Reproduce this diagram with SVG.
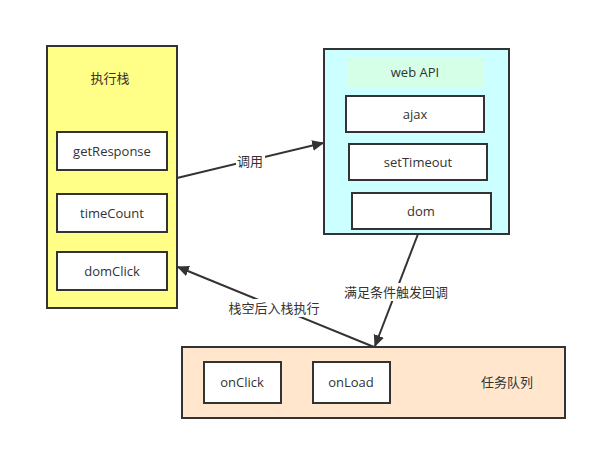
<svg xmlns="http://www.w3.org/2000/svg" width="597" height="450" viewBox="0 0 597 450">
<style>
text{font-family:"Open Sans","Noto Sans CJK SC","Liberation Sans",sans-serif;font-size:13px;fill:#333;text-anchor:middle;dominant-baseline:central}
.box{fill:#fff;stroke:#333;stroke-width:2}
.edge{fill:none;stroke:#333;stroke-width:2}
.lbl{fill:#fff}
</style>
<defs>
<marker id="ah" viewBox="0 0 10 10" refX="9" refY="5" markerWidth="6" markerHeight="6" markerUnits="strokeWidth" orient="auto">
<path d="M0,0.5 L10,5 L0,9.5 z" fill="#333"/>
</marker>
</defs>
<rect width="597" height="450" fill="#fff"/>
<g id="stack">
<rect x="47" y="46" width="130" height="262" fill="#ffff88" stroke="#333" stroke-width="2"/>
<text x="110" y="78">执行栈</text>
</g>
<g id="getResponse"><rect class="box" x="57" y="132" width="110" height="38"/><text x="112" y="151">getResponse</text></g>
<g id="timeCount"><rect class="box" x="57" y="194" width="110" height="38"/><text x="112" y="213">timeCount</text></g>
<g id="domClick"><rect class="box" x="57" y="252" width="110" height="38"/><text x="112" y="271">domClick</text></g>
<g id="webapi">
<rect x="324" y="49" width="185" height="185" fill="#ccffff" stroke="#333" stroke-width="2"/>
<rect x="347" y="57" width="136" height="30" fill="#d5ffe6"/>
<text x="415" y="72">web API</text>
</g>
<g id="ajax"><rect class="box" x="346" y="96" width="138" height="36"/><text x="415" y="114">ajax</text></g>
<g id="setTimeout"><rect class="box" x="349" y="144" width="138" height="36"/><text x="418" y="162">setTimeout</text></g>
<g id="dom"><rect class="box" x="352" y="193" width="139" height="36"/><text x="421" y="211">dom</text></g>
<g id="queue">
<rect x="182" y="347" width="383" height="71" fill="#ffe6cc" stroke="#333" stroke-width="2"/>
<text x="507" y="382">任务队列</text>
</g>
<g id="onClick"><rect class="box" x="204" y="362" width="77" height="41"/><text x="242" y="382">onClick</text></g>
<g id="onLoad"><rect class="box" x="313" y="362" width="77" height="41"/><text x="351" y="382">onLoad</text></g>
<g id="connectors">
<path class="edge" d="M177,178 L323,143" marker-end="url(#ah)"/>
<rect class="lbl" x="236" y="153" width="29" height="18"/>
<text x="250" y="161">调用</text>
<path class="edge" d="M418,234 L375,346" marker-end="url(#ah)"/>
<rect class="lbl" x="343" y="283" width="106" height="18"/>
<text x="396" y="292">满足条件触发回调</text>
<path class="edge" d="M374,347 L178,267" marker-end="url(#ah)"/>
<rect class="lbl" x="228" y="299" width="93" height="18"/>
<text x="274" y="308">栈空后入栈执行</text>
</g>
</svg>
